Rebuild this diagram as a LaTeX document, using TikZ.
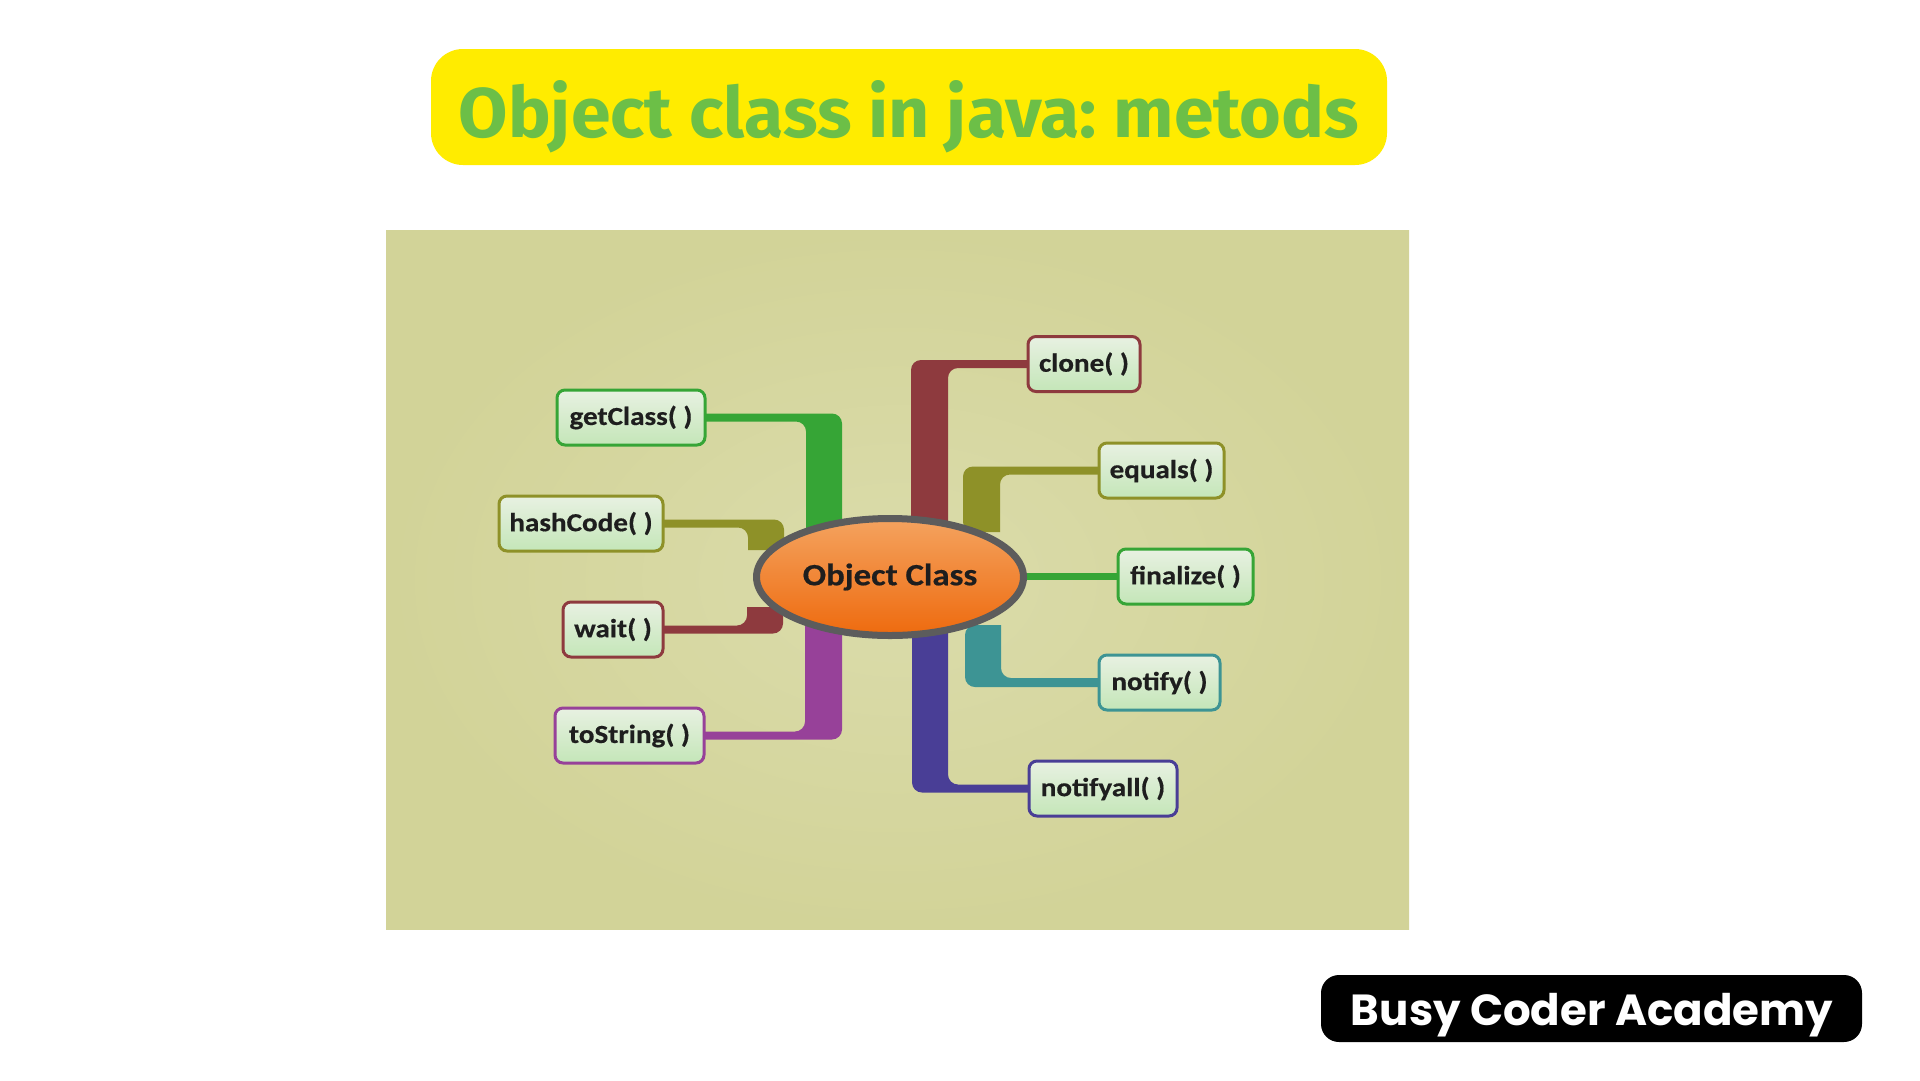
\documentclass[tikz,border=0pt]{standalone}
\usepackage{fontspec}
\usetikzlibrary{shapes.geometric,calc}
\newfontfamily\cfont[FakeStretch=1.12, BoldFeatures={FakeBold=0.5}]{Carlito}
\newfontfamily\tfont{Fira Sans}
\newfontfamily\pfont{Poppins}
\frenchspacing
\definecolor{ttlyellow}{HTML}{FFEC00}
\definecolor{ttlgreen}{HTML}{6CBF47}
\definecolor{panelin}{HTML}{DBDCAB}
\definecolor{panelout}{HTML}{D2D398}
\definecolor{brgreen}{HTML}{36A536}
\definecolor{brolive}{HTML}{8E9128}
\definecolor{brmaroon}{HTML}{8E3A3E}
\definecolor{brpurple}{HTML}{974199}
\definecolor{brteal}{HTML}{3D9494}
\definecolor{brindigo}{HTML}{493E96}
\definecolor{boxtop}{HTML}{E8F1E2}
\definecolor{boxbot}{HTML}{C4E6B8}
\definecolor{txt}{HTML}{1E1E1E}
\definecolor{ovtop}{HTML}{F4A35F}
\definecolor{ovbot}{HTML}{EE6A0E}
\definecolor{ovline}{HTML}{5C5C5C}
\pgfdeclarelayer{back}
\pgfsetlayers{back,main}
\begin{document}
\begin{tikzpicture}[x=1pt,y=-1pt,
  mbox/.style={draw=#1, line width=3pt, rounded corners=8pt,
    top color=boxtop, bottom color=boxbot, minimum height=55pt,
    inner xsep=0pt, inner ysep=0pt, text=txt,
    font=\cfont\bfseries\fontsize{26}{30}\selectfont},
  oval/.style={ellipse, draw=ovline, line width=7pt, top color=ovtop,
    bottom color=ovbot, minimum width=267pt, minimum height=117pt,
    inner sep=0pt, text=txt, font=\cfont\bfseries\fontsize{31}{36}\selectfont},
  rc/.style={rounded corners=10pt}]
\useasboundingbox (0,0) rectangle (1920,1080);

% white page and background panel
\begin{pgfonlayer}{back}
\fill[white] (0,0) rectangle (1920,1080);
\shade[inner color=panelin, outer color=panelout] (386,230) rectangle (1409,929);
\end{pgfonlayer}

% title
\fill[ttlyellow, rounded corners=32pt] (431,49) rectangle (1387,165);
\node[anchor=base, inner sep=0pt, text=ttlgreen] (title) at (909,137)
  {\resizebox{900pt}{57pt}{\tfont\bfseries Object class in java: metods}};

% central node
\node[oval] (oc) at (890,577) {Object Class};

% method boxes
\node[mbox=brgreen, minimum width=148pt] (g)  at (631,417.5)  {getClass( )};
\node[mbox=brolive, minimum width=164pt] (h)  at (581,523.5)  {hashCode( )};
\node[mbox=brmaroon, minimum width=100pt] (w)  at (613,629.5)  {wait( )};
\node[mbox=brpurple, minimum width=149pt] (t)  at (629.5,735.5) {toString( )};
\node[mbox=brmaroon, minimum width=112pt] (c)  at (1084,364)   {clone( )};
\node[mbox=brolive, minimum width=125pt] (e)  at (1161.5,470.5) {equals( )};
\node[mbox=brgreen, minimum width=135pt] (f)  at (1185.5,576.5) {finalize( )};
\node[mbox=brteal, minimum width=121pt] (n)  at (1159.5,682.5) {notify( )};
\node[mbox=brindigo, minimum width=148pt] (na) at (1103,788.5) {notifyall( )};

% branches
\begin{pgfonlayer}{back}
% getClass
\fill[brgreen] ($(g.center)+(0,-4)$) [rc] -| ($(oc.center)+(-48,0)$) [sharp corners]
  -- ($(oc.center)+(-84,0)$) [rc] |- ($(g.center)+(0,4)$) [sharp corners] -- cycle;
% hashCode
\fill[brolive] ($(h.center)+(0,-4)$) [rc] -| ($(oc.center)+(-106,-27)$) [sharp corners]
  -- ($(oc.center)+(-142,-27)$) [rc] |- ($(h.center)+(0,4)$) [sharp corners] -- cycle;
% wait
\fill[brmaroon] ($(w.center)+(0,4)$) [rc] -| ($(oc.center)+(-107,30)$) [sharp corners]
  -- ($(oc.center)+(-143,30)$) [rc] |- ($(w.center)+(0,-4)$) [sharp corners] -- cycle;
% toString
\fill[brpurple] ($(t.center)+(0,4)$) [rc] -| ($(oc.center)+(-48,40)$) [sharp corners]
  -- ($(oc.center)+(-85,40)$) [rc] |- ($(t.center)+(0,-4)$) [sharp corners] -- cycle;
% clone
\fill[brmaroon] ($(c.center)+(0,-4)$) [rc] -| ($(oc.center)+(21,0)$) [sharp corners]
  -- ($(oc.center)+(58,0)$) [rc] |- ($(c.center)+(0,4)$) [sharp corners] -- cycle;
% equals
\fill[brolive] ($(e.center)+(0,-4)$) [rc] -| ($(oc.center)+(73,-45)$) [sharp corners]
  -- ($(oc.center)+(110,-45)$) [rc] |- ($(e.center)+(0,4)$) [sharp corners] -- cycle;
% finalize
\draw[brgreen, line width=7.5pt] (oc.center |- f.center) -- (f.center);
% notify
\fill[brteal] ($(n.center)+(0,4.5)$) [rc] -| ($(oc.center)+(75,48)$) [sharp corners]
  -- ($(oc.center)+(111,48)$) [rc] |- ($(n.center)+(0,-4.5)$) [sharp corners] -- cycle;
% notifyall
\fill[brindigo] ($(na.center)+(0,4)$) [rc] -| ($(oc.center)+(22,40)$) [sharp corners]
  -- ($(oc.center)+(58,40)$) [rc] |- ($(na.center)+(0,-4)$) [sharp corners] -- cycle;
\end{pgfonlayer}

% badge
\fill[black, rounded corners=18pt] (1321,975) rectangle (1862,1042);
\node[anchor=base, inner sep=0pt, text=white] (badge) at (1592,1025)
  {\resizebox{482pt}{!}{\pfont\bfseries Busy Coder Academy}};
\end{tikzpicture}
\end{document}
